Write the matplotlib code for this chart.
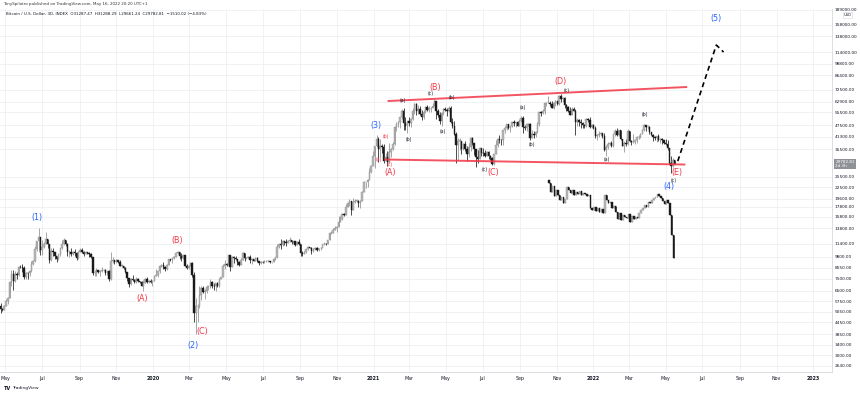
import numpy as np
import pandas as pd
import matplotlib as mpl
mpl.use('Agg')
import matplotlib.pyplot as plt
import matplotlib.dates as mdates
import matplotlib.transforms as mtransforms
from matplotlib.ticker import NullFormatter, NullLocator

# BTCUSD 3D candles, last one opens 2022-05-16
last_candle = '2022-05-16'
first_open = 5400

close_2019 = [5200, 5150, 5400, 5750, 5950, 7200, 7950, 7350, 7980, 7880,
              8680, 8660, 8550, 7670, 8050, 8000, 8230, 8960, 9270, 10700,
              11750, 12400, 10600, 11000, 11450, 12100, 11350, 9450, 10500, 10300,
              9850, 9500, 10100, 10800, 11450, 11900, 11400, 10300, 10350, 10100,
              10400, 10200, 9600, 10400, 10580, 10400, 10100, 10350, 10250, 10150,
              9700, 8050, 8050, 8350, 8150, 8200, 8300, 8350, 8050, 8200,
              7450, 9250, 9450, 9150, 9400, 9200, 8800, 8800, 8550, 8150,
              7600, 7050, 7450, 7400, 7200, 7500, 7300, 7250, 6900, 7150,
              7500, 7250, 7300, 7200]
high_2019 = [5620, 5300, 5450, 5900, 6000, 7300, 8300, 8300, 8200, 8100,
             8800, 8900, 9000, 8800, 8100, 8100, 8300, 9300, 9350, 11100,
             11800, 13880, 12400, 12000, 11700, 13200, 12100, 11400, 10800, 10900,
             10300, 9900, 10100, 10900, 12000, 12200, 12000, 11500, 10600, 10900,
             10500, 10700, 10300, 10450, 10900, 10900, 10500, 10450, 10400, 10350,
             10200, 9750, 8300, 8500, 8350, 8300, 8650, 8450, 8400, 8250,
             8300, 10300, 9800, 9450, 9500, 9450, 9400, 8950, 8800, 8650,
             8150, 7600, 7600, 7850, 7450, 7650, 7550, 7300, 7300, 7400,
             7600, 7650, 7400, 7500]
low_2019 = [4950, 5100, 5150, 5400, 5550, 5950, 6900, 6600, 7250, 7500,
            7800, 8500, 8100, 7450, 7450, 7500, 7750, 8100, 8900, 9200,
            10500, 10300, 10000, 10000, 10800, 11400, 10900, 9100, 9300, 9900,
            9500, 9150, 9400, 9900, 10700, 11300, 11100, 9900, 9800, 9900,
            9950, 9900, 9400, 9500, 10300, 10200, 9900, 10100, 10100, 9800,
            9650, 7900, 7800, 7750, 8000, 7800, 8100, 8200, 7900, 7900,
            7350, 7400, 9100, 8950, 9050, 9100, 8700, 8600, 8400, 8050,
            7300, 6800, 7000, 7300, 7100, 7150, 7200, 7150, 6850, 6450,
            7100, 7150, 7100, 7150]

close_2020 = [7350, 7750, 7820, 8200, 8800, 8900, 8650, 8450, 8900, 9500,
              9350, 9600, 9800, 10250, 10350, 9900, 9600, 9950, 8800, 8550,
              8750, 9100, 7900, 4950, 5400, 5400, 6200, 6750, 6400, 6450,
              6800, 6800, 7200, 6900, 6850, 7100, 6850, 7500, 7700, 8800,
              8950, 8900, 9950, 8600, 9700, 9650, 9500, 9200, 8850, 9450,
              10200, 9650, 9650, 9800, 9450, 9500, 9300, 9680, 9250, 9050,
              9220, 9130, 9250, 9250, 9250, 9130, 9170, 9530, 9700, 10950,
              11350, 11230, 11750, 11680, 11550, 11780, 11950, 11650, 11750, 11300,
              11700, 11400, 10200, 10100, 10400, 10700, 10950, 10900, 10500, 10720,
              10850, 10600, 10800, 10900, 11400, 11450, 11350, 11900, 12950, 13050,
              13450, 13750, 14000, 14850, 15300, 16300, 16050, 17800, 18700, 19150,
              17150, 18800, 19150, 19200, 18550, 19150, 21300, 23850, 23850, 24700,
              27100, 29000]
high_2020 = [7400, 7800, 8450, 8200, 8900, 8950, 9150, 8700, 8950, 9550,
             9500, 9650, 9900, 10300, 10500, 10350, 10250, 9950, 9950, 8950,
             8900, 9200, 9200, 8150, 5950, 5550, 6900, 6850, 6900, 6650,
             7000, 7000, 7450, 7350, 7150, 7150, 7250, 7550, 7700, 8950,
             9450, 9100, 9950, 9950, 9900, 9900, 9900, 9550, 9300, 9600,
             10400, 10250, 9800, 9900, 10000, 9550, 9550, 9700, 9700, 9300,
             9300, 9250, 9450, 9450, 9350, 9300, 9200, 9600, 9700, 11350,
             11450, 12050, 11900, 11800, 12050, 11950, 12450, 11950, 11850, 11750,
             11750, 12050, 11450, 10450, 10450, 10700, 11100, 11050, 10950, 10800,
             10950, 10950, 10800, 10950, 11450, 11700, 11550, 11950, 13200, 13350,
             13850, 14100, 14100, 15950, 15950, 16450, 16500, 18450, 18800, 19450,
             19200, 19850, 19550, 19450, 19300, 19350, 21500, 24250, 24100, 24800,
             28400, 29300]
low_2020 = [6900, 7300, 7750, 7700, 8000, 8600, 8450, 8250, 8300, 8900,
            9250, 9100, 9500, 9800, 10100, 9500, 9300, 9550, 8700, 8450,
            8400, 8700, 7650, 4450, 3850, 4450, 5300, 5800, 6350, 5900,
            6350, 6600, 6750, 6750, 6600, 6500, 6800, 6800, 7450, 7650,
            8450, 8700, 8900, 8200, 8600, 9100, 9350, 8900, 8700, 8850,
            9400, 9300, 9500, 9600, 9100, 9000, 9250, 9250, 9150, 8850,
            9000, 9050, 9050, 9150, 9150, 9050, 9050, 9150, 9450, 9650,
            10850, 10700, 11100, 11200, 11150, 11500, 11700, 11350, 11550, 11100,
            11250, 11300, 9900, 9900, 10050, 10200, 10650, 10800, 10150, 10350,
            10650, 10500, 10500, 10550, 10900, 11250, 11250, 11350, 11900, 12900,
            12950, 13400, 13200, 14000, 14850, 15200, 15900, 16050, 17750, 18000,
            16200, 17700, 18600, 18900, 17700, 17600, 19000, 21300, 22400, 22700,
            24600, 26800]

close_2021 = [32800, 36800, 40200, 35500, 36800, 36600, 30800, 32300, 30400, 34300,
              35500, 38000, 46400, 48000, 49000, 52100, 56000, 48800, 47000, 49600,
              48400, 51200, 56000, 61200, 56000, 57600, 54500, 52300, 55800, 58800,
              57000, 58000, 58000, 60000, 63200, 56200, 53800, 50000, 55000, 57800,
              56600, 56400, 58300, 49200, 46800, 42900, 37300, 39300, 39300, 35700,
              37600, 35500, 33400, 36700, 40500, 38100, 35500, 32500, 31600, 36000,
              33900, 33800, 32900, 34250, 32800, 31800, 29800, 33600, 37300, 40000,
              39900, 39700, 44600, 45600, 47800, 46000, 46700, 49300, 48900, 49000,
              47100, 49900, 51800, 46400, 46000, 48100, 48300, 40700, 42800, 42200,
              43800, 48200, 55300, 54900, 56000, 61700, 62000, 62200, 61300, 58500,
              62200, 63200, 61000, 67500, 65000, 65500, 60300, 59000, 56300, 53600,
              57800, 56500, 49400, 50600, 49400, 48400, 47600, 46700, 50800, 50400,
              46500, 47700]
high_2021 = [34800, 37000, 41900, 41300, 40100, 37900, 37800, 33800, 34900, 38500,
             36000, 38900, 46700, 49000, 49700, 52600, 57500, 58300, 52000, 49900,
             52600, 51400, 58000, 61800, 61700, 60100, 59900, 57100, 56600, 59800,
             60200, 59500, 58800, 61500, 64900, 63600, 57500, 55500, 55700, 58400,
             58900, 58400, 59500, 59600, 51600, 49700, 43500, 40800, 40800, 38300,
             38200, 39400, 36800, 38200, 41000, 41300, 38200, 35800, 35400, 36600,
             36000, 35900, 35000, 34600, 34600, 33200, 32500, 33600, 39500, 40600,
             42300, 40400, 44700, 46700, 48100, 48100, 47200, 49500, 50500, 49200,
             49600, 51000, 52900, 52900, 47300, 48500, 48800, 48400, 45000, 44300,
             44000, 49300, 55800, 56100, 57800, 62900, 62700, 67000, 63600, 63700,
             62500, 64200, 63100, 67800, 69000, 66200, 66300, 60900, 60000, 59300,
             58800, 59200, 57600, 51900, 50800, 50800, 49500, 48300, 51400, 51900,
             52100, 48000]
low_2021 = [28900, 28200, 36300, 30500, 32500, 33900, 30000, 31000, 29200, 30000,
            32300, 35300, 37400, 44000, 46200, 45900, 50900, 45000, 44900, 43000,
            47100, 46300, 50200, 54300, 53300, 54200, 53700, 50400, 51300, 54900,
            56500, 55500, 55500, 58000, 59800, 50900, 52200, 48000, 47000, 53300,
            56000, 53000, 55300, 48600, 46000, 42200, 30000, 31200, 35000, 33600,
            35000, 34800, 31000, 32300, 34700, 37500, 33300, 28800, 30200, 32000,
            32700, 32700, 32200, 32600, 31700, 31100, 29300, 29400, 33400, 36400,
            38300, 37500, 37300, 43100, 44600, 45300, 43900, 46600, 47200, 46300,
            46700, 46900, 49500, 43000, 44700, 44100, 46800, 39600, 40600, 40800,
            40900, 43300, 46900, 53000, 53900, 54200, 59800, 61500, 59700, 58000,
            57400, 59500, 60100, 60700, 62800, 62400, 58600, 56500, 55600, 53300,
            53600, 55900, 42000, 47100, 46800, 45700, 46000, 45600, 46400, 49500,
            46000, 45700]

close_2022 = [45900, 41600, 41900, 42600, 43100, 41800, 35100, 36700, 37700, 38500,
              37000, 42400, 44400, 42200, 44500, 40000, 37000, 38300, 37700, 44400,
              39400, 38700, 38800, 39700, 40900, 41300, 42900, 44500, 47400, 46300,
              46600, 43500, 42300, 41100, 40500, 41500, 39700, 40400, 39700, 38500,
              37700, 36000, 30100, 28950, 31287.47, 29782.81]
high_2022 = [47900, 47000, 42800, 44300, 43700, 43200, 43400, 37500, 38900, 38700,
             39300, 42500, 45500, 45800, 44800, 44600, 40400, 39100, 40200, 45400,
             44100, 39600, 42500, 39900, 41700, 42300, 43300, 45100, 48200, 47700,
             47400, 47200, 43900, 42400, 41600, 41800, 42900, 40500, 40800, 39900,
             40000, 39800, 36000, 32600, 31800, 31288.29]
low_2022 = [45500, 40600, 39700, 41300, 41800, 40600, 34800, 32900, 35500, 37400,
            36300, 36600, 41700, 41700, 41600, 39600, 36800, 34300, 37100, 37500,
            38600, 37200, 38200, 37600, 38200, 40200, 40500, 42600, 44400, 44200,
            45100, 42700, 41900, 39200, 39600, 38600, 39200, 38200, 37700, 37600,
            37400, 35300, 29800, 26700, 28700, 29661.24]

# pasted fractal copy drawn under the current price
overlay_start = '2021-10-19'
overlay_open = 24500
overlay_close = [23690, 21260, 22850, 20260, 21780, 20510, 19310, 20020, 18630, 19550,
                 22580, 21780, 21010, 21780, 20510, 21260, 20760, 21520, 20510, 21010,
                 20760, 20260, 20510, 17550, 17130, 17760, 16930, 17550, 16730, 17340,
                 16530, 20510, 19310, 18630, 18860, 17550, 17970, 16730, 15380, 16530,
                 15190, 16140, 15750, 15560, 16330, 14830, 15940, 15380, 15750, 15560,
                 16530, 17130, 17550, 18190, 17760, 18860, 18630, 19310, 19780, 20020,
                 20760, 20260, 19780, 19080, 18410, 19310, 18630, 16140, 12690, 9630]

# axis ticks
price_ticks = [189000, 158000, 138000, 114000, 98800, 86400, 72500, 62900, 55500,
               47500, 41300, 35500, 25500, 22500, 19600, 17800, 15800, 13800, 11400,
               9800, 8550, 7500, 6500, 5750, 5050, 4450, 3850, 3400, 3000, 2640]
month_ticks = ['2019-05-01', '2019-07-01', '2019-09-01', '2019-11-01', '2020-01-01',
               '2020-03-01', '2020-05-01', '2020-07-01', '2020-09-01', '2020-11-01',
               '2021-01-01', '2021-03-01', '2021-05-01', '2021-07-01', '2021-09-01',
               '2021-11-01', '2022-01-01', '2022-03-01', '2022-05-01', '2022-07-01',
               '2022-09-01', '2022-11-01', '2023-01-01']
month_labels = ['May', 'Jul', 'Sep', 'Nov', '2020', 'Mar', 'May', 'Jul', 'Sep', 'Nov',
                '2021', 'Mar', 'May', 'Jul', 'Sep', 'Nov', '2022', 'Mar', 'May', 'Jul',
                'Sep', 'Nov', '2023']

# elliott wave annotations
blue_labels = ['(1)', '(2)', '(3)', '(4)', '(5)']
blue_dates = ['2019-06-22', '2020-03-07', '2021-01-05', '2022-05-07', '2022-07-24']
blue_prices = [15750, 3390, 47500, 22850, 171500]

red_labels = ['(A)', '(B)', '(C)', '(A)', '(B)', '(C)', '(D)', '(E)']
red_dates = ['2019-12-14', '2020-02-10', '2020-03-22', '2021-01-28', '2021-04-13',
             '2021-07-18', '2021-11-08', '2022-05-20']
red_prices = [5890, 11950, 4010, 26860, 74930, 27020, 80200, 26710]

small_red_labels = ['(a)', '(b)', '(c)']
small_red_dates = ['2021-01-09', '2021-01-21', '2021-01-28']
small_red_prices = [31220, 41140, 29570]

small_labels = ['(a)', '(b)', '(c)', '(a)', '(b)', '(c)', '(a)', '(b)', '(c)', '(a)', '(b)', '(c)']
small_dates = ['2021-02-19', '2021-02-28', '2021-04-06', '2021-04-26', '2021-05-11',
               '2021-07-05', '2021-09-06', '2021-09-21', '2021-11-17', '2022-01-23',
               '2022-03-27', '2022-05-14']
small_prices = [64120, 40160, 69740, 44210, 66460, 28020, 58960, 37820, 71600, 31590,
                54200, 24550]

upper_dates = ['2021-01-26', '2022-06-04']
upper_prices = [63370, 74930]
lower_dates = ['2021-01-21', '2022-06-01']
lower_prices = [31400, 29570]
proj_dates = ['2022-05-21', '2022-07-24', '2022-08-05']
proj_prices = [30800, 124000, 114000]

UP_FACE = '#b8b8b8'
UP_EDGE = '#8e8e8e'
DOWN = '#1a1a1a'
BLUE = '#2962ff'
RED = '#f23645'


def draw_candles(ax, dates, opens, highs, lows, closes, width=2.4):
    x = mdates.date2num(dates)
    up = closes >= opens
    lo = np.minimum(opens, closes)
    hi = np.maximum(np.maximum(opens, closes), lo * 1.004)
    highs = np.maximum(highs, hi)
    lows = np.minimum(lows, lo)
    for mask, face, edge in ((up, UP_FACE, UP_EDGE), (~up, DOWN, DOWN)):
        ax.vlines(x[mask], lows[mask], highs[mask], color=edge, linewidth=0.55, zorder=2)
        ax.bar(x[mask], hi[mask] - lo[mask], bottom=lo[mask], width=width,
               color=face, edgecolor=edge, linewidth=0.3, zorder=3)


def dn(d):
    return mdates.date2num(pd.to_datetime(d))


closes = np.array(close_2019 + close_2020 + close_2021 + close_2022, dtype=float)
highs = np.array(high_2019 + high_2020 + high_2021 + high_2022, dtype=float)
lows = np.array(low_2019 + low_2020 + low_2021 + low_2022, dtype=float)
opens = np.concatenate([[first_open], closes[:-1]])
dates = pd.date_range(end=last_candle, periods=len(closes), freq='3D')

ov_close = np.array(overlay_close, dtype=float)
ov_open = np.concatenate([[overlay_open], ov_close[:-1]])
ov_dates = pd.date_range(start=overlay_start, periods=len(ov_close), freq='3D')

fig = plt.figure(figsize=(8.6, 3.95), dpi=100)
ax = fig.add_axes([0, 1 - 372 / 395, 832 / 860, 363 / 395])
ax.set_yscale('log')
ax.set_ylim(2453, 191100)
ax.set_xlim(dn('2019-04-22'), dn('2023-02-01'))

draw_candles(ax, dates, opens, highs, lows, closes)
draw_candles(ax, ov_dates, ov_open, np.maximum(ov_open, ov_close),
             np.minimum(ov_open, ov_close), ov_close)

# triangle lines
ax.plot([dn(d) for d in upper_dates], upper_prices, color=RED, lw=1.4, alpha=0.85, zorder=4)
ax.plot([dn(d) for d in lower_dates], lower_prices, color=RED, lw=1.4, alpha=0.85, zorder=4)
# projected wave (5)
ax.plot([dn(d) for d in proj_dates], proj_prices, color='black', lw=1.2,
        linestyle=(0, (3.0, 2.2)), zorder=4)

for labels, ds, ps, col, fs in ((blue_labels, blue_dates, blue_prices, BLUE, 5.8),
                                (red_labels, red_dates, red_prices, RED, 5.8),
                                (small_red_labels, small_red_dates, small_red_prices, RED, 3.3),
                                (small_labels, small_dates, small_prices, '#131722', 3.3)):
    for t, d, p in zip(labels, ds, ps):
        ax.text(dn(d), p, t, color=col, fontsize=fs, ha='center', va='center', zorder=5)

# axes styling
ax.yaxis.tick_right()
ax.set_yticks(price_ticks)
ax.set_yticklabels(['{:.2f}'.format(p) for p in price_ticks])
ax.yaxis.set_minor_locator(NullLocator())
ax.yaxis.set_minor_formatter(NullFormatter())
ax.tick_params(axis='y', length=0, pad=2, labelsize=3.1, labelcolor='#131722')
ax.set_xticks([dn(d) for d in month_ticks])
ax.set_xticklabels(month_labels)
for lab in ax.get_xticklabels():
    if lab.get_text().isdigit():
        lab.set_fontweight('bold')
ax.tick_params(axis='x', length=0, pad=3, labelsize=3.4, labelcolor='#131722')
ax.grid(color='#eef0f5', linewidth=0.6)
ax.set_axisbelow(True)
for s in ['top', 'left']:
    ax.spines[s].set_visible(False)
for s in ['right', 'bottom']:
    ax.spines[s].set_color('#d6d8de')
    ax.spines[s].set_linewidth(0.6)

# last price tag and currency on price scale
trans = mtransforms.blended_transform_factory(ax.transAxes, ax.transData)
ax.text(1.004, closes[-1], '{:.2f}\n2d 3h'.format(closes[-1]), transform=trans,
        fontsize=3.0, color='white', ha='left', va='center', linespacing=1.1,
        bbox=dict(facecolor='#8f9197', edgecolor='none', pad=0.8), clip_on=False, zorder=6)
ax.text(1.014, 177800, 'USD', transform=trans, fontsize=2.6, color='#131722',
        ha='left', va='center', clip_on=False,
        bbox=dict(facecolor='white', edgecolor='#d6d8de', pad=0.6, linewidth=0.4))

# header and footer
fig.text(3 / 860, 1 - 4.5 / 395,
         'TonySpilotro published on TradingView.com, May 16, 2022 20:20 UTC+1',
         fontsize=2.9, color='#333333', va='center', ha='left')
fig.text(6 / 860, 1 - 14 / 395,
         'Bitcoin / U.S. Dollar, 3D, INDEX  O31287.47  H31288.29  L29661.24  C29782.81  '
         '\u22121510.02 (\u22124.83%)',
         fontsize=2.9, color='#131722', va='center', ha='left')
fig.text(4 / 860, 1 - 388 / 395, 'TV', fontsize=3.6, fontweight='bold',
         color='#131722', va='center', ha='left')
fig.text(12 / 860, 1 - 388 / 395, 'TradingView', fontsize=3.2,
         color='#131722', va='center', ha='left')

fig.savefig('out.png', dpi=100, facecolor='white')
